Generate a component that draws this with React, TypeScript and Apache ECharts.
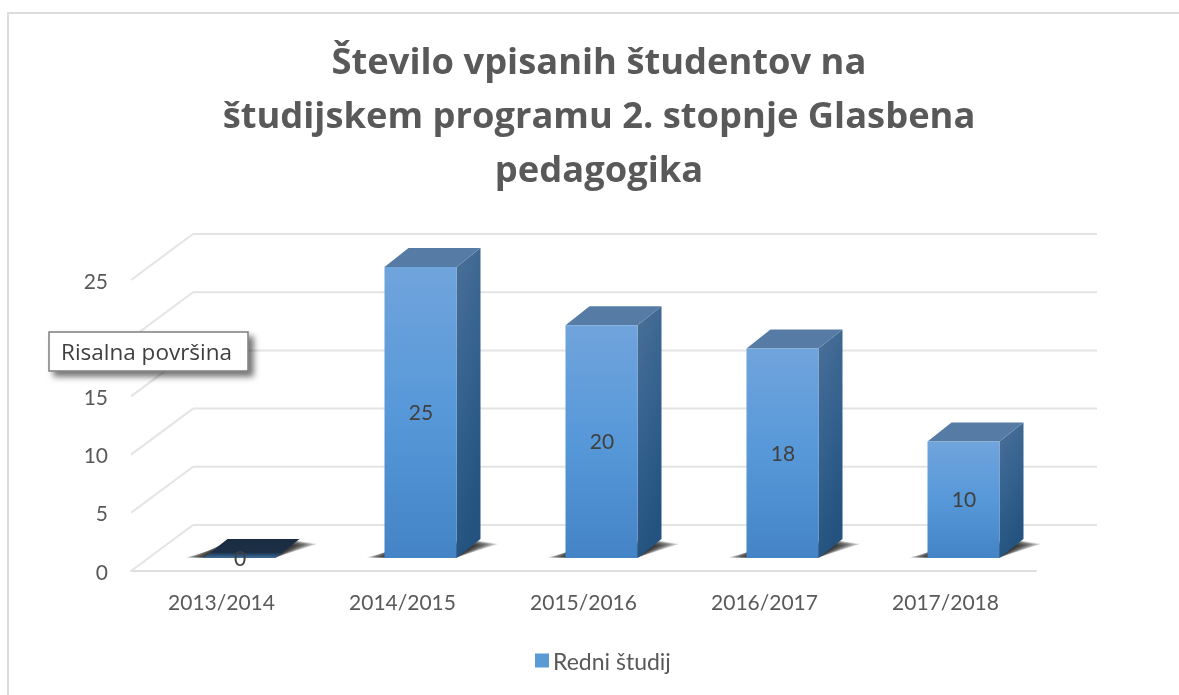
import React, { useEffect, useRef } from "react";
import * as echarts from "echarts";

const titleLines = ["Število vpisanih študentov na", "študijskem programu 2. stopnje Glasbena", "pedagogika"];
const categories = ["2013/2014", "2014/2015", "2015/2016", "2016/2017", "2017/2018"];
const values = [0, 25, 20, 18, 10];
const wallTicks = [0, 5, 10, 15, 20, 25];
const hiddenTick = 20; // covered by the "Risalna površina" box in the reference
const seriesName = "Redni študij";
const FONT = "Lato, Carlito, sans-serif";
const UI_FONT = "'Open Sans', 'Noto Sans', sans-serif";

const BAR_W = 72, BAR_DX = 18, LIFT = 13, DEPTH_X = 24, DEPTH_Y = 19;
const WALL_DX = 62, WALL_DY = 46;
const SHADOW_LAYERS = [18, 16, 14, 12, 10, 8, 6, 4, 2, 0];

const lin = (x2: number, y2: number, stops: [number, string][]) => ({
  type: "linear", x: 0, y: 0, x2, y2, global: false,
  colorStops: stops.map(([offset, color]) => ({ offset, color })),
});

export default function App() {
  const ref = useRef<HTMLDivElement>(null);
  useEffect(() => {
    const chart = echarts.init(ref.current!, null, { renderer: "svg" });
    chart.setOption({
      animation: false,
      backgroundColor: "#ffffff",
      textStyle: { fontFamily: FONT },
      title: {
        text: titleLines.join("\n"),
        left: 594, top: 28, textAlign: "center",
        textStyle: { fontFamily: UI_FONT, fontSize: 36.3, fontWeight: "bold", color: "#595959", lineHeight: 54 },
      },
      legend: {
        data: [seriesName], left: 530, top: 644, itemWidth: 14, itemHeight: 14, itemGap: 0,
        icon: "rect",
        textStyle: { fontFamily: FONT, fontSize: 23, color: "#595959", padding: [0, 0, 0, -1] },
      },
      grid: { left: 131, top: 280, width: 905, height: 291 },
      xAxis: {
        type: "category", data: categories,
        axisLine: { lineStyle: { color: "#dedede", width: 2 } },
        axisTick: { show: false },
        axisLabel: { color: "#595959", fontSize: 21, fontFamily: FONT, margin: 20 },
      },
      yAxis: {
        type: "value", min: 0, max: 25, interval: 5,
        axisLine: { show: false }, axisTick: { show: false }, splitLine: { show: false },
        axisLabel: {
          color: "#595959", fontSize: 21, fontFamily: FONT, margin: 23,
          formatter: (v: number) => (v === hiddenTick ? "" : String(v)),
        },
      },
      series: [
        {
          type: "custom", name: "walls", silent: true, z: 1,
          data: wallTicks.map((t) => [0, t]),
          renderItem: (params: any, api: any) => {
            const cs = params.coordSys;
            const y = api.coord([0, api.value(1)])[1];
            const lineStyle = { stroke: "#e4e4e4", lineWidth: 2, fill: "none" };
            return {
              type: "group",
              children: [
                { type: "line", shape: { x1: cs.x, y1: y, x2: cs.x + WALL_DX, y2: y - WALL_DY }, style: lineStyle },
                { type: "line", shape: { x1: cs.x + WALL_DX, y1: y - WALL_DY, x2: cs.x + cs.width + WALL_DX - 1, y2: y - WALL_DY }, style: lineStyle },
              ],
            };
          },
        },
        {
          type: "custom", name: seriesName, silent: true, z: 2,
          itemStyle: { color: "#5b9bd5" },
          data: values.map((v, i) => [i, v]),
          renderItem: (_: any, api: any) => {
            const v = api.value(1);
            const [cx, top0] = api.coord([api.value(0), v]);
            const base0 = api.coord([api.value(0), 0])[1];
            const l = cx + BAR_DX - BAR_W / 2, r = l + BAR_W;
            const top = top0 - LIFT, base = base0 - LIFT;
            const poly = (points: number[][], fill: any) => ({ type: "polygon", shape: { points }, style: { fill } });
            const children: any[] = SHADOW_LAYERS.map((g) => ({
              type: "polygon",
              shape: {
                points: [
                  [l - g, base - 0.5],
                  [r, base - 0.5],
                  [r + DEPTH_X + g, base - DEPTH_Y + 2 + g * 0.15],
                  [l + DEPTH_X - g, base - DEPTH_Y + 2 + g * 0.55],
                ],
              },
              style: { fill: "rgba(35,35,35,0.2)" },
            }));
            if (v > 0) {
              children.push(
                poly([[r, base], [r + DEPTH_X, base - DEPTH_Y], [r + DEPTH_X, top - DEPTH_Y], [r, top]],
                  lin(0.3, 1, [[0, "#4b7098"], [0.5, "#35628f"], [1, "#24537f"]])),
                poly([[l, top], [r, top], [r + DEPTH_X, top - DEPTH_Y], [l + DEPTH_X, top - DEPTH_Y]], "#567ca6"),
                poly([[l, base], [r, base], [r, top], [l, top]],
                  lin(0, 1, [[0, "#70a4dc"], [0.5, "#5798d9"], [1, "#4484c6"]])),
              );
            } else {
              children.push(
                poly([[l, base], [r, base], [r + DEPTH_X, base - DEPTH_Y], [l + DEPTH_X, base - DEPTH_Y]],
                  lin(0, 1, [[0, "#1b2c40"], [0.7, "#1b2f47"], [1, "#40709f"]])),
              );
            }
            children.push({
              type: "text", z2: 10,
              style: {
                text: String(v), x: (l + r) / 2 + 0.5, y: (top + base) / 2 - 1, align: "center", verticalAlign: "middle",
                fill: "#404040", fontSize: 21, fontFamily: FONT,
              },
            });
            return { type: "group", children };
          },
        },
      ],
      graphic: [
        {
          type: "rect", z: 0, silent: true,
          shape: { x: 8, y: 13, width: 1200, height: 720 },
          style: { fill: "none", stroke: "#dcdcdc", lineWidth: 2 },
        },
        {
          type: "rect", z: 100, silent: true, shape: { x: 49, y: 332, width: 199, height: 39 },
          style: { fill: "#ffffff", stroke: "#7f7f7f", lineWidth: 1.5, shadowBlur: 6, shadowOffsetX: 5, shadowOffsetY: 5, shadowColor: "rgba(0,0,0,0.55)" },
        },
        {
          type: "text", z: 101, silent: true,
          style: { text: "Risalna površina", x: 61, y: 351, verticalAlign: "middle", fill: "#404040", fontSize: 22.5, fontFamily: UI_FONT },
        },
      ],
    });
    return () => chart.dispose();
  }, []);
  return <div ref={ref} style={{ position: "absolute", left: 0, top: 0, width: 1179, height: 695, filter: "blur(0.6px)" }} />;
}
